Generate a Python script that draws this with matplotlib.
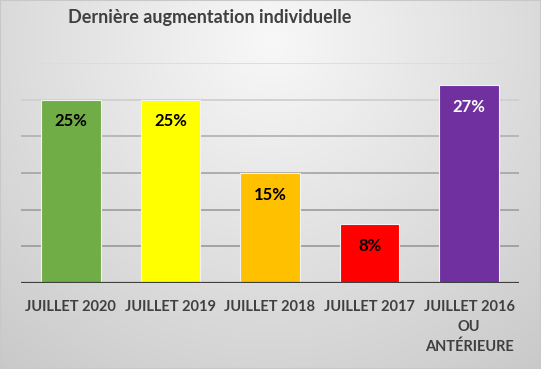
import numpy as np
import matplotlib
matplotlib.use("Agg")
from matplotlib import pyplot as plt
from matplotlib.patches import Rectangle

# data
categories = ["JUILLET 2020", "JUILLET 2019", "JUILLET 2018", "JUILLET 2017",
              "JUILLET 2016\nOU\nANTÉRIEURE"]
values = [25, 25, 15, 8, 27]
bar_colors = ["#70ad47", "#ffff00", "#ffc000", "#ff0000", "#7030a0"]
label_colors = ["black", "black", "black", "black", "white"]
title = "Dernière augmentation individuelle"

plt.rcParams['font.family'] = ['Lato', 'DejaVu Sans']

W, H = 541, 369
fig = plt.figure(figsize=(W/100, H/100), dpi=100)

# radial grey background, lightest near top centre
bg = fig.add_axes([0, 0, 1, 1], zorder=-10)
yy, xx = np.mgrid[0:H, 0:W]
d = np.sqrt((xx - 270.0)**2 + (yy - 40.0)**2)
g = np.clip(248 - 0.11*d, 195, 250)/255.0
bg.imshow(np.dstack([g, g, g]), extent=[0, 1, 0, 1], aspect='auto',
          origin='upper')
bg.add_patch(Rectangle((0, 0), 1, 1, fill=False, ec="#c8c8c8", lw=1.5,
                       transform=bg.transAxes))
bg.axis('off')

ax = fig.add_axes([21/W, 1-283/H, (519-21)/W, (283-63)/H])
ax.patch.set_alpha(0)

x = np.arange(len(categories))
bars = ax.bar(x, values, width=0.6, color=bar_colors, edgecolor="#f2f2f2",
              linewidth=0.8, zorder=3)

grid_cols = {5: "#9e9e9e", 10: "#a2a2a2", 15: "#a8a8a8", 20: "#b4b4b4",
             25: "#cfcfcf", 30: "#dcdcdc"}
for yv, c in grid_cols.items():
    ax.axhline(yv, color=c, lw=1.3, zorder=1)
ax.axhline(0, color="#404040", lw=1.6, zorder=4)

for b, v, lc in zip(bars, values, label_colors):
    ax.annotate(f"{v}%", (b.get_x() + b.get_width()/2, v),
                xytext=(0, -15.5), textcoords="offset points",
                ha="center", va="center", fontsize=12, fontweight="bold",
                color=lc, zorder=5)

ax.set_xlim(-0.5, len(categories) - 0.5)
ax.set_ylim(0, 30)
ax.set_yticks([])
ax.set_xticks(x)
ax.set_xticklabels(categories, fontsize=10.5, fontweight="bold",
                   color="#404040", linespacing=1.5)
ax.tick_params(axis='x', length=0, pad=12.5)
for s in ax.spines.values():
    s.set_visible(False)

fig.text(68/W, 1-17/H, title, ha="left", va="center", fontsize=13,
         fontweight="bold", color="#404040")

fig.savefig("out.png", dpi=100)
